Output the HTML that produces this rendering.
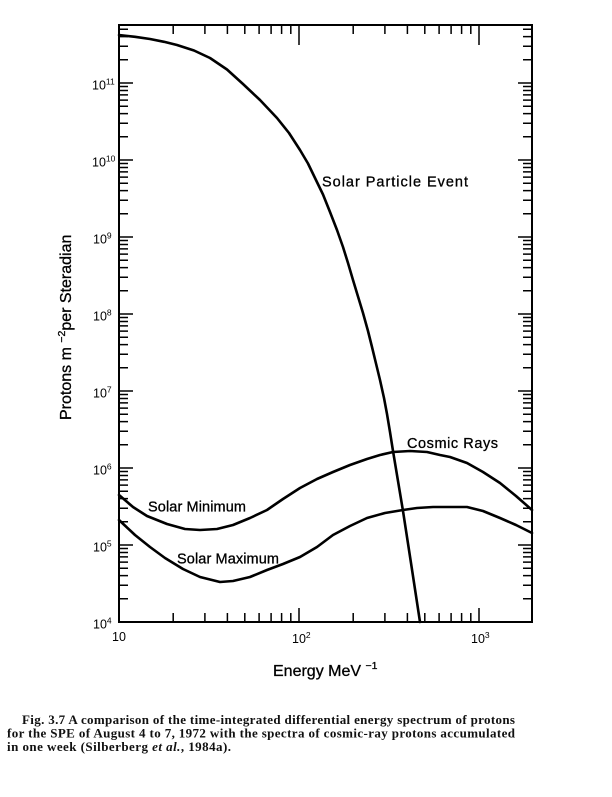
<!DOCTYPE html>
<html>
<head>
<meta charset="utf-8">
<style>
html,body{margin:0;padding:0;background:#fff;}
svg{display:block;}
.s{font-family:"Liberation Sans",Arial,sans-serif;fill:#000;}
.c{font-family:"Liberation Serif","Times New Roman",serif;font-weight:bold;fill:#111;}
</style>
</head>
<body>
<svg width="612" height="797" viewBox="0 0 612 797" xmlns="http://www.w3.org/2000/svg">
<rect width="612" height="797" fill="#fff"/>
<defs>
<path id="ly" d="M119 598.8h9M119 585.3h9M119 575.6h9M119 568.2h9M119 562.1h9M119 556.9h9M119 552.5h9M119 548.5h9
M119 521.8h9M119 508.3h9M119 498.6h9M119 491.2h9M119 485.1h9M119 479.9h9M119 475.5h9M119 471.5h9
M119 444.8h9M119 431.3h9M119 421.6h9M119 414.2h9M119 408.1h9M119 402.9h9M119 398.5h9M119 394.5h9
M119 367.8h9M119 354.3h9M119 344.6h9M119 337.2h9M119 331.1h9M119 325.9h9M119 321.5h9M119 317.5h9
M119 290.8h9M119 277.3h9M119 267.6h9M119 260.2h9M119 254.1h9M119 248.9h9M119 244.5h9M119 240.5h9
M119 213.8h9M119 200.3h9M119 190.6h9M119 183.2h9M119 177.1h9M119 171.9h9M119 167.5h9M119 163.5h9
M119 136.8h9M119 123.3h9M119 113.6h9M119 106.2h9M119 100.1h9M119 94.9h9M119 90.5h9M119 86.5h9
M119 59.8h9M119 46.3h9M119 36.6h9M119 29.2h9
M119 545h14M119 468h14M119 391h14M119 314h14M119 237h14M119 160h14M119 83h14"/>
<path id="lx" d="M173.2 622v-9M204.9 622v-9M227.4 622v-9M244.8 622v-9M259.1 622v-9M271.1 622v-9M281.6 622v-9M290.8 622v-9
M353.2 622v-9M384.9 622v-9M407.4 622v-9M424.8 622v-9M439.1 622v-9M451.1 622v-9M461.6 622v-9M470.8 622v-9"/>
</defs>
<g stroke="#000" stroke-width="1.5" fill="none">
<use href="#ly"/>
<use href="#ly" transform="translate(651,0) scale(-1,1)"/>
<use href="#lx"/>
<use href="#lx" transform="translate(0,647) scale(1,-1)"/>
<path d="M299 622v-14M479 622v-14M299 25v20M479 25v20"/>
</g>
<rect x="119" y="25" width="413" height="597" fill="none" stroke="#000" stroke-width="2"/>

<g fill="none" stroke="#000" stroke-width="2.6" stroke-linejoin="round" stroke-linecap="round">
<polyline points="119,35 135,36.8 150,39 164,41.8 177,45 194,50.5 210,58 227,69.5 243,84 260,100 277,118 289,133 300,150 308,163.5 315,178 323,194.5 330,212 337,230 343,247 348,263 353,280 358,296.5 363,313 368,331 372,347 376,363.5 380,380 384,398 387,414 390,432 393,451 398,481 403,511 411,563 420,622"/>
<polyline points="119,495 133,507 147,516 167,524 185,529 200,530 217,529 233,525 250,518 267,510 283,499 300,488 317,479 333,472 350,465 367,459 380,455 393,452 410,451 427,452 440,455 450,457 467,463 483,472 500,483 516,496 532,510"/>
<polyline points="119,520 135,535 150,547 165,558 183,569 200,577 220,582 233,581 250,577 267,570 283,564 300,557 317,547 333,535 350,526 367,518 385,513 403,510 417,508 433,507 450,507 467,507 483,511 500,518 516,525 532,533"/>
</g>

<g class="s" font-size="12.5">
<text x="93" y="628.5">10<tspan font-size="8.5" dy="-5">4</tspan></text>
<text x="93" y="551.5">10<tspan font-size="8.5" dy="-5">5</tspan></text>
<text x="93" y="474.5">10<tspan font-size="8.5" dy="-5">6</tspan></text>
<text x="93" y="397.5">10<tspan font-size="8.5" dy="-5">7</tspan></text>
<text x="93" y="320.5">10<tspan font-size="8.5" dy="-5">8</tspan></text>
<text x="93" y="243.5">10<tspan font-size="8.5" dy="-5">9</tspan></text>
<text x="92" y="166.5">10<tspan font-size="8.5" dy="-5">10</tspan></text>
<text x="92" y="89.5">10<tspan font-size="8.5" dy="-5">11</tspan></text>
<text x="112" y="641">10</text>
<text x="292" y="643">10<tspan font-size="8.5" dy="-5">2</tspan></text>
<text x="471" y="643">10<tspan font-size="8.5" dy="-5">3</tspan></text>
</g>

<g class="s" font-size="14.5" stroke="#000" stroke-width="0.3">
<text x="322" y="186.5" textLength="146" lengthAdjust="spacing">Solar Particle Event</text>
<text x="407" y="448" textLength="91" lengthAdjust="spacing">Cosmic Rays</text>
<text x="148" y="511.5" textLength="98" lengthAdjust="spacing">Solar Minimum</text>
<text x="177" y="563.5" textLength="102" lengthAdjust="spacing">Solar Maximum</text>
</g>

<g class="s" stroke="#000" stroke-width="0.3">
<text x="273" y="676" font-size="16">Energy MeV <tspan font-size="10.5" dy="-7">−1</tspan></text>
<text transform="translate(71,420) rotate(-90)" x="0" y="0" font-size="16">Protons m <tspan font-size="10.5" dy="-6">−2</tspan><tspan dy="6">per Steradian</tspan></text>
</g>

<g class="c" font-size="13">
<text x="22" y="724" textLength="493" lengthAdjust="spacing">Fig. 3.7 A comparison of the time-integrated differential energy spectrum of protons</text>
<text x="7" y="737.5" textLength="508" lengthAdjust="spacing">for the SPE of August 4 to 7, 1972 with the spectra of cosmic-ray protons accumulated</text>
<text x="7" y="751" textLength="224" lengthAdjust="spacing">in one week (Silberberg <tspan font-style="italic">et al.</tspan>, 1984a).</text>
</g>
</svg>
</body>
</html>
